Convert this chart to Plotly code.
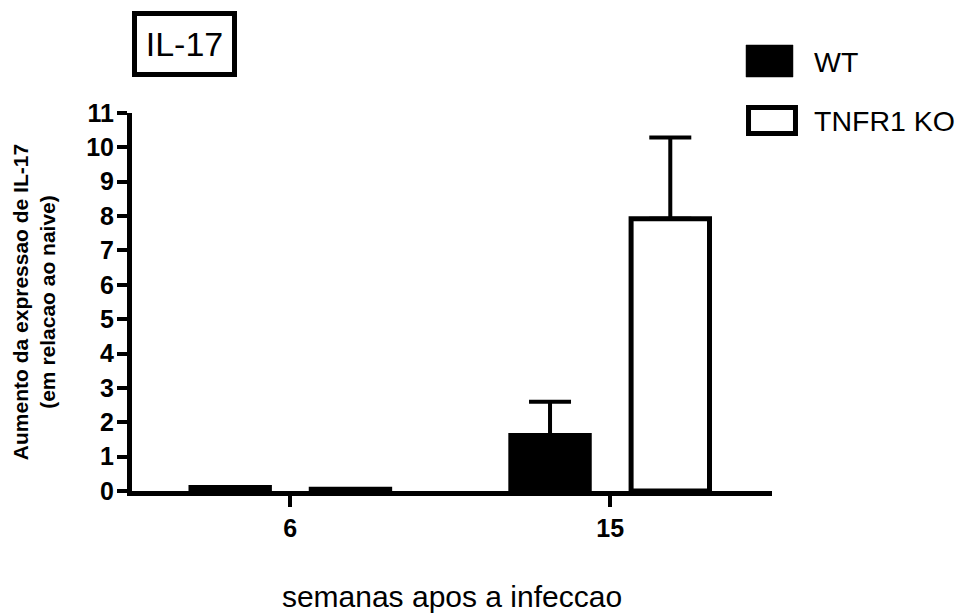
import plotly.graph_objects as go

categories = ["6", "15"]
positions = [0, 1]
wt_values = [0.10, 1.615]
wt_errors = [0.0, 0.985]
ko_values = [0.05, 7.92]
ko_errors = [0.0, 2.37]
series_names = ["WT", "TNFR1 KO"]

FONT = "Liberation Sans, Arial, sans-serif"

L, R, T, B = 131.5, 189, 113, 122
W, H = 961, 613
PW, PH = W - L - R, H - T - B

fig = go.Figure()
fig.add_trace(go.Bar(
    x=positions, y=wt_values, name=series_names[0],
    marker=dict(color="black", line=dict(color="black", width=5)),
    error_y=dict(type="data", array=wt_errors, arrayminus=[0, 0], symmetric=False,
                 color="black", thickness=4, width=21, visible=True),
    showlegend=False,
))
fig.add_trace(go.Bar(
    x=positions, y=ko_values, name=series_names[1],
    marker=dict(color="white", line=dict(color="black", width=5)),
    error_y=dict(type="data", array=ko_errors, arrayminus=[0, 0], symmetric=False,
                 color="black", thickness=4, width=21, visible=True),
    showlegend=False,
))

fig.update_layout(
    width=W, height=H,
    margin=dict(l=L, r=R, t=T, b=B, pad=0),
    paper_bgcolor="white", plot_bgcolor="white",
    barmode="group", bargap=0.248, bargroupgap=0.348,
    font=dict(family=FONT, color="black"),
    xaxis=dict(
        range=[-0.495, 1.506], tickmode="array", tickvals=positions, ticktext=categories,
        showline=True, linecolor="black", linewidth=5, showgrid=False, zeroline=False,
        ticks="outside", ticklen=11, tickwidth=4, tickcolor="black",
        tickfont=dict(family=FONT, size=25, weight="bold"),
        automargin=False,
        title=dict(text="semanas apos a infeccao", font=dict(family=FONT, size=30), standoff=46),
    ),
    yaxis=dict(
        range=[0, 11], tickmode="linear", tick0=0, dtick=1,
        showline=True, linecolor="black", linewidth=5, showgrid=False, zeroline=False,
        ticks="outside", ticklen=10, tickwidth=4, tickcolor="black",
        tickfont=dict(family=FONT, size=25, weight="bold"),
        ticklabelstandoff=-2,
        automargin=False,
        title=dict(text="Aumento da expressao de IL-17<br>(em relacao ao naive)",
                   font=dict(family=FONT, size=21, weight="bold"), standoff=26),
    ),
)

# Title box
fig.add_annotation(
    text="IL-17", xref="paper", yref="paper", x=(184 - L) / PW, y=1.0, yshift=T - 44,
    xanchor="center", yanchor="middle", showarrow=False,
    font=dict(family=FONT, size=34), bordercolor="black", borderwidth=5, borderpad=5,
    width=85, height=46, bgcolor="white",
)

# Legend (custom, drawn in paper coordinates)
legend_fill = ["black", "white"]
legend_boxes = [(746, 793, 45, 77), (748.5, 795.5, 107.5, 133.5)]
legend_text_y = [62, 121]
for name, fill, (x0, x1, y0, y1), ty in zip(series_names, legend_fill, legend_boxes, legend_text_y):
    fig.add_shape(type="rect", xref="paper", yref="paper",
                  x0=(x0 - L) / PW, x1=(x1 - L) / PW,
                  y0=(H - B - y1) / PH, y1=(H - B - y0) / PH,
                  fillcolor=fill, line=dict(color="black", width=5 if fill == "white" else 0.5))
    fig.add_annotation(text=name, xref="paper", yref="paper",
                       x=(812 - L) / PW, y=(H - B - ty) / PH,
                       xanchor="left", yanchor="middle", showarrow=False,
                       font=dict(family=FONT, size=28.5))

fig.write_html(
    "out.html",
    config={"displayModeBar": False},
    post_script="document.body.style.margin='0';document.body.style.overflow='hidden';",
)
